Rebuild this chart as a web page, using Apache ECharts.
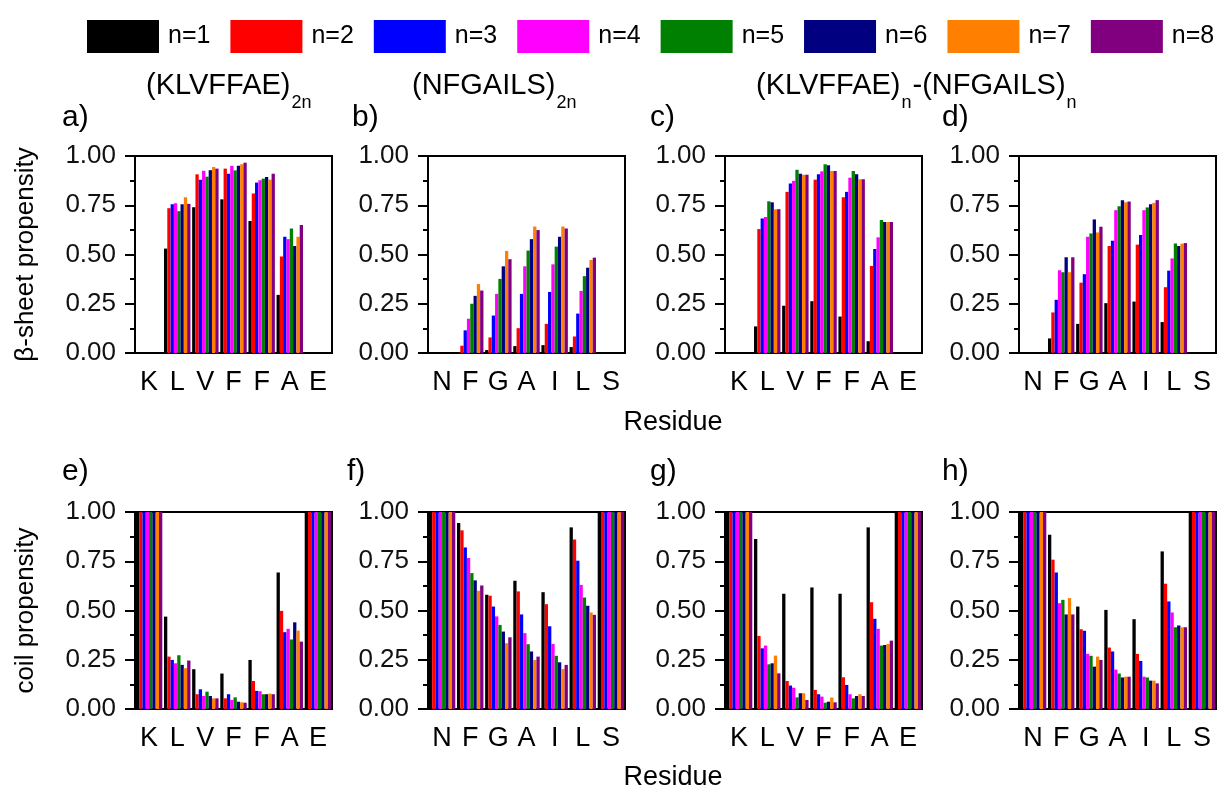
<!DOCTYPE html>
<html>
<head>
<meta charset="utf-8">
<script src="https://cdn.jsdelivr.net/npm/echarts@6/dist/echarts.min.js"></script>
<style>
  html, body { margin: 0; padding: 0; background: #fff; }
  #chart { width: 1225px; height: 793px; }
</style>
</head>
<body>
<div id="chart"></div>
<script>
// residues on the x axes
const resKLV = ['K', 'L', 'V', 'F', 'F', 'A', 'E'];
const resNFG = ['N', 'F', 'G', 'A', 'I', 'L', 'S'];
const seriesNames = ['n=1', 'n=2', 'n=3', 'n=4', 'n=5', 'n=6', 'n=7', 'n=8'];
const colors = ['#000000', '#ff0000', '#0000ff', '#ff00ff', '#008000', '#000080', '#ff8000', '#800080'];
const yTicks = [0, 0.25, 0.5, 0.75, 1];

// beta-sheet propensity, one row per n
const sheetA = [
  [null, 0.53, 0.74, 0.78, 0.67, 0.295, null],
  [null, 0.735, 0.907, 0.936, 0.81, 0.49, null],
  [null, 0.755, 0.88, 0.91, 0.865, 0.59, null],
  [null, 0.76, 0.925, 0.95, 0.877, 0.578, null],
  [null, 0.72, 0.895, 0.927, 0.885, 0.632, null],
  [null, 0.755, 0.928, 0.95, 0.894, 0.543, null],
  [null, 0.79, 0.944, 0.958, 0.88, 0.59, null],
  [null, 0.757, 0.936, 0.966, 0.91, 0.65, null]
];
const sheetB = [
  [null, 0.005, 0.015, 0.035, 0.04, 0.03, null],
  [null, 0.037, 0.079, 0.126, 0.148, 0.084, null],
  [null, 0.115, 0.19, 0.30, 0.31, 0.20, null],
  [null, 0.174, 0.30, 0.44, 0.45, 0.315, null],
  [null, 0.25, 0.376, 0.52, 0.54, 0.39, null],
  [null, 0.29, 0.44, 0.578, 0.59, 0.433, null],
  [null, 0.35, 0.518, 0.642, 0.642, 0.472, null],
  [null, 0.317, 0.476, 0.624, 0.632, 0.484, null]
];
const sheetC = [
  [null, 0.135, 0.24, 0.263, 0.185, 0.06, null],
  [null, 0.629, 0.818, 0.88, 0.79, 0.442, null],
  [null, 0.683, 0.86, 0.907, 0.818, 0.528, null],
  [null, 0.69, 0.874, 0.922, 0.89, 0.587, null],
  [null, 0.77, 0.93, 0.958, 0.924, 0.675, null],
  [null, 0.765, 0.91, 0.953, 0.907, 0.665, null],
  [null, 0.73, 0.905, 0.924, 0.882, 0.665, null],
  [null, 0.73, 0.905, 0.924, 0.882, 0.665, null]
];
const sheetD = [
  [null, 0.074, 0.148, 0.253, 0.261, 0.157, null],
  [null, 0.206, 0.357, 0.543, 0.55, 0.334, null],
  [null, 0.27, 0.40, 0.57, 0.599, 0.418, null],
  [null, 0.42, 0.59, 0.725, 0.725, 0.48, null],
  [null, 0.41, 0.607, 0.745, 0.739, 0.556, null],
  [null, 0.486, 0.678, 0.776, 0.755, 0.543, null],
  [null, 0.41, 0.612, 0.765, 0.762, 0.555, null],
  [null, 0.486, 0.641, 0.769, 0.776, 0.558, null]
];

// coil propensity, one row per n
const coilE = [
  [1, 0.469, 0.202, 0.18, 0.249, 0.693, 1],
  [1, 0.266, 0.075, 0.054, 0.142, 0.498, 1],
  [1, 0.249, 0.10, 0.075, 0.092, 0.39, 1],
  [1, 0.232, 0.066, 0.046, 0.09, 0.407, 1],
  [1, 0.273, 0.088, 0.059, 0.075, 0.353, 1],
  [1, 0.224, 0.066, 0.037, 0.075, 0.44, 1],
  [1, 0.207, 0.054, 0.034, 0.078, 0.398, 1],
  [1, 0.246, 0.054, 0.032, 0.075, 0.342, 1]
];
const coilF = [
  [1, 0.944, 0.58, 0.651, 0.593, 0.922, 1],
  [1, 0.907, 0.575, 0.597, 0.532, 0.86, 1],
  [1, 0.82, 0.52, 0.48, 0.42, 0.753, 1],
  [1, 0.766, 0.47, 0.385, 0.33, 0.63, 1],
  [1, 0.69, 0.427, 0.329, 0.27, 0.566, 1],
  [1, 0.653, 0.393, 0.292, 0.237, 0.524, 1],
  [1, 0.60, 0.334, 0.249, 0.203, 0.49, 1],
  [1, 0.627, 0.364, 0.266, 0.224, 0.478, 1]
];
const coilG = [
  [1, 0.863, 0.585, 0.617, 0.585, 0.922, 1],
  [1, 0.371, 0.142, 0.097, 0.161, 0.542, 1],
  [1, 0.308, 0.119, 0.075, 0.122, 0.458, 1],
  [1, 0.322, 0.108, 0.063, 0.075, 0.407, 1],
  [1, 0.227, 0.059, 0.032, 0.054, 0.322, 1],
  [1, 0.232, 0.08, 0.037, 0.066, 0.325, 1],
  [1, 0.271, 0.08, 0.058, 0.075, 0.33, 1],
  [1, 0.181, 0.046, 0.034, 0.066, 0.347, 1]
];
const coilH = [
  [1, 0.885, 0.52, 0.503, 0.456, 0.80, 1],
  [1, 0.758, 0.405, 0.312, 0.28, 0.636, 1],
  [1, 0.693, 0.397, 0.292, 0.244, 0.546, 1],
  [1, 0.537, 0.28, 0.20, 0.164, 0.49, 1],
  [1, 0.554, 0.27, 0.18, 0.16, 0.415, 1],
  [1, 0.48, 0.215, 0.16, 0.144, 0.424, 1],
  [1, 0.563, 0.266, 0.164, 0.144, 0.415, 1],
  [1, 0.48, 0.249, 0.164, 0.13, 0.415, 1]
];

const panels = [
  { data: sheetA, cats: resKLV, left: 135, top: 156 },
  { data: sheetB, cats: resNFG, left: 428, top: 156 },
  { data: sheetC, cats: resKLV, left: 725, top: 156 },
  { data: sheetD, cats: resNFG, left: 1019, top: 156 },
  { data: coilE, cats: resKLV, left: 135, top: 512 },
  { data: coilF, cats: resNFG, left: 428, top: 512 },
  { data: coilG, cats: resKLV, left: 725, top: 512 },
  { data: coilH, cats: resNFG, left: 1019, top: 512 }
];

// panel headings: [text, isSubscript] pieces
const headings = [
  { x: 146, pieces: [['(KLVFFAE)', false], ['2n', true]] },
  { x: 412, pieces: [['(NFGAILS)', false], ['2n', true]] },
  { x: 756, pieces: [['(KLVFFAE)', false], ['n', true], ['-(NFGAILS)', false], ['n', true]] }
];

const FONT = 'Liberation Sans, Arial, sans-serif';
const HEAD_SIZE = 29, SUB_SIZE = 18;

let myChart = echarts.init(document.getElementById('chart'));

const grid = [], xAxis = [], yAxis = [], series = [];
panels.forEach((p, i) => {
  grid.push({
    left: p.left, top: p.top, width: 197, height: 197,
    show: true, borderColor: '#000', borderWidth: 2, backgroundColor: 'transparent'
  });
  xAxis.push({
    type: 'category', gridIndex: i, data: p.cats,
    axisLine: { lineStyle: { color: '#000', width: 2 } },
    axisTick: { alignWithLabel: true, length: 10, lineStyle: { color: '#000', width: 2 } },
    axisLabel: { fontSize: 27, fontFamily: FONT, color: '#000', margin: 16 }
  });
  let y = {
    type: 'value', gridIndex: i, min: yTicks[0], max: yTicks[yTicks.length - 1], interval: 0.25,
    axisLine: { show: true, lineStyle: { color: '#000', width: 2 } },
    axisTick: { show: true, length: 10, lineStyle: { color: '#000', width: 2 } },
    minorTick: { show: true, splitNumber: 2, length: 5, lineStyle: { color: '#000', width: 2 } },
    splitLine: { show: false },
    axisLabel: { fontSize: 26, fontFamily: FONT, color: '#111', margin: 19, formatter: v => v.toFixed(2) }
  };
  if (i === 0 || i === 4) {
    y.name = i === 0 ? 'β-sheet propensity' : 'coil propensity';
    y.nameLocation = 'middle';
    y.nameGap = 96;
    y.nameTextStyle = { fontSize: 26, fontFamily: FONT, color: '#000' };
  }
  yAxis.push(y);
  p.data.forEach((vals, k) => {
    series.push({
      name: seriesNames[k], type: 'bar', xAxisIndex: i, yAxisIndex: i,
      data: vals, barGap: '0%', barCategoryGap: '6%',
      itemStyle: { color: colors[k] }, silent: true
    });
  });
});

function txt(text, x, y, size, align) {
  return {
    type: 'text', x: x, y: y, silent: true,
    style: { text: text, fontSize: size, fontFamily: FONT, fill: '#000',
      align: align || 'left', verticalAlign: 'middle' }
  };
}

// measure text so subscripts follow their base text
const ctx = document.createElement('canvas').getContext('2d');
function textWidth(text, size) {
  ctx.font = size + 'px ' + FONT;
  return ctx.measureText(text).width;
}

const graphic = [];
headings.forEach(h => {
  let x = h.x;
  h.pieces.forEach(([t, sub]) => {
    const size = sub ? SUB_SIZE : HEAD_SIZE;
    graphic.push(txt(t, x, sub ? 103 : 86, size));
    x += textWidth(t, size) + 1;
  });
});
[['a)', 62, 118], ['b)', 352, 118], ['c)', 650, 118], ['d)', 942, 118],
 ['e)', 62, 472], ['f)', 347, 472], ['g)', 650, 472], ['h)', 942, 472]]
  .forEach(([t, x, y]) => graphic.push(txt(t, x, y, 30)));
graphic.push(txt('Residue', 673, 423, 27, 'center'));
graphic.push(txt('Residue', 673, 778, 27, 'center'));

myChart.setOption({
  animation: false,
  color: colors,
  legend: {
    data: seriesNames, left: 82, top: 15, icon: 'rect',
    itemWidth: 72, itemHeight: 33, itemGap: 20,
    textStyle: { fontSize: 25, fontFamily: FONT, color: '#000', padding: [0, 0, 0, 4] }
  },
  grid: grid,
  xAxis: xAxis,
  yAxis: yAxis,
  series: series,
  graphic: graphic
});
</script>
</body>
</html>
